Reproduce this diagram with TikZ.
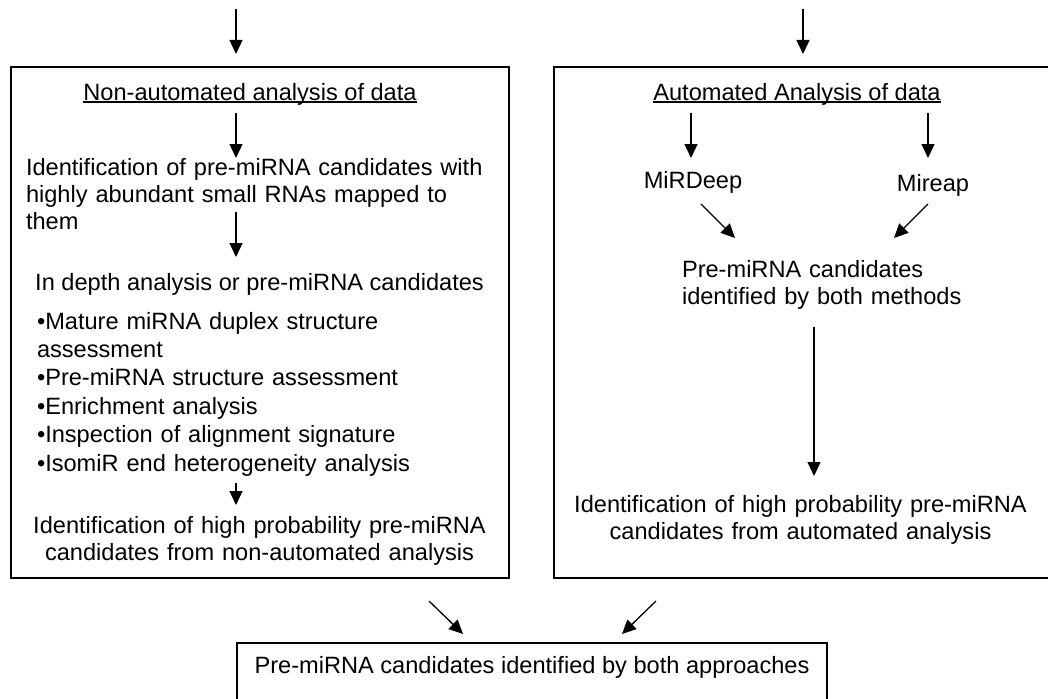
\documentclass[tikz,border=0pt]{standalone}
\usepackage{fontspec}
\setmainfont{Liberation Sans}
\usetikzlibrary{arrows.meta,calc}
\setlength{\parindent}{0pt}
\newcommand\mfont{\fontsize{23.6pt}{27pt}\selectfont}
\newcommand\bfont{\fontsize{23.6pt}{28.4pt}\selectfont}
\begin{document}
\begin{tikzpicture}[x=1pt,y=-1pt,
  txt/.style={inner sep=0pt, outer sep=0pt, font=\mfont},
  box/.style={draw, line width=1.3pt, inner sep=0pt, outer sep=0pt, anchor=north west},
  arr/.style={line width=1.3pt, -{Triangle[length=14pt,width=13pt]}},
  uline/.style={line width=1.1pt}]
\fill[white] (0,0) rectangle (1048,698);
\path[use as bounding box] (0,0) rectangle (1048,698);
\clip (0,0) rectangle (1048,698);

% boxes
\node[box, minimum width=498pt, minimum height=511pt] (boxL) at (11,67) {};
\node[box, minimum width=516pt, minimum height=511pt] (boxR) at (554,67) {};
\node[box, minimum width=590pt, minimum height=80pt] (boxB) at (237,643) {};

% helper coordinates
\coordinate (inL) at (236,9);
\coordinate (inR) at (803,9);
\coordinate (colL) at (236,0);
\coordinate (colR) at (814,0);

% left column
\node[txt, anchor=base] (headL) at (250,100) {Non-automated analysis of data};
\node[txt, anchor=base west, text width=470pt, align=left] (identL) at (26,175)
  {Identification of pre-miRNA candidates with\\highly abundant small RNAs mapped to\\them};
\node[txt, anchor=base] (depthL) at (259.5,290) {In depth analysis or pre-miRNA candidates};
\node[txt, anchor=base west, text width=460pt, align=left, font=\bfont] (bullets) at (37,329)
  {•Mature miRNA duplex structure\\assessment\\•Pre-miRNA structure assessment\\•Enrichment analysis\\•Inspection of alignment signature\\•IsomiR end heterogeneity analysis};
\node[txt, anchor=base, text width=470pt, align=center] (highL) at (259.5,533)
  {Identification of high probability pre-miRNA\\candidates from non-automated analysis};

% right column
\node[txt, anchor=base] (headR) at (797,100) {Automated Analysis of data};
\node[txt, anchor=base] (mirdeep) at (693,188) {MiRDeep};
\node[txt, anchor=base] (mireap) at (933,191) {Mireap};
\node[txt, anchor=base west, text width=300pt, align=left] (bothR) at (682,277)
  {Pre-miRNA candidates\\identified by both methods};
\node[txt, anchor=base, text width=470pt, align=center] (highR) at (800.5,512)
  {Identification of high probability pre-miRNA\\candidates from automated analysis};

% bottom
\node[txt, anchor=base] (final) at (532,673) {Pre-miRNA candidates identified by both approaches};

% underlines
\draw[uline] ($(headL.base west)+(0,2)$) -- ($(headL.base east)+(0,2)$);
\draw[uline] ($(headR.base west)+(0,2)$) -- ($(headR.base east)+(0,2)$);

% arrows
\draw[arr] (inL) -- ($(boxL.north -| inL)+(0,-13)$);
\draw[arr] (inR) -- ($(boxR.north -| inR)+(0,-13)$);
\draw[arr] ($(headL.base -| colL)+(0,13)$) -- ($(identL.base -| colL)+(0,-17)$);
\draw[arr] ($(identL.base -| colL)+(0,37)$) -- ($(depthL.base -| colL)+(0,-33)$);
\draw[arr] ($(bullets.base -| colL)+(0,154)$) -- ($(highL.base -| colL)+(0,-28)$);
\draw[arr] ($(headR.base -| mirdeep.base)+(-2,13)$) -- ($(mirdeep.base)+(-2,-30)$);
\draw[arr] ($(headR.base -| mireap.base)+(-5,13)$) -- ($(mireap.base)+(-5,-33)$);
\draw[arr] ($(mirdeep.base)+(8,16)$) -- ($(bothR.base west)+(53,-39)$);
\draw[arr] ($(mireap.base)+(-5,13)$) -- ($(bothR.base west)+(212,-39)$);
\draw[arr] ($(bothR.base -| colR)+(0,50)$) -- ($(highR.base -| colR)+(0,-36)$);
\draw[arr] ($(boxL.south)+(169,23)$) -- ($(boxB.north)+(-69,-9)$);
\draw[arr] ($(boxR.south)+(-156,23)$) -- ($(boxB.north)+(90,-9)$);
\end{tikzpicture}
\end{document}
